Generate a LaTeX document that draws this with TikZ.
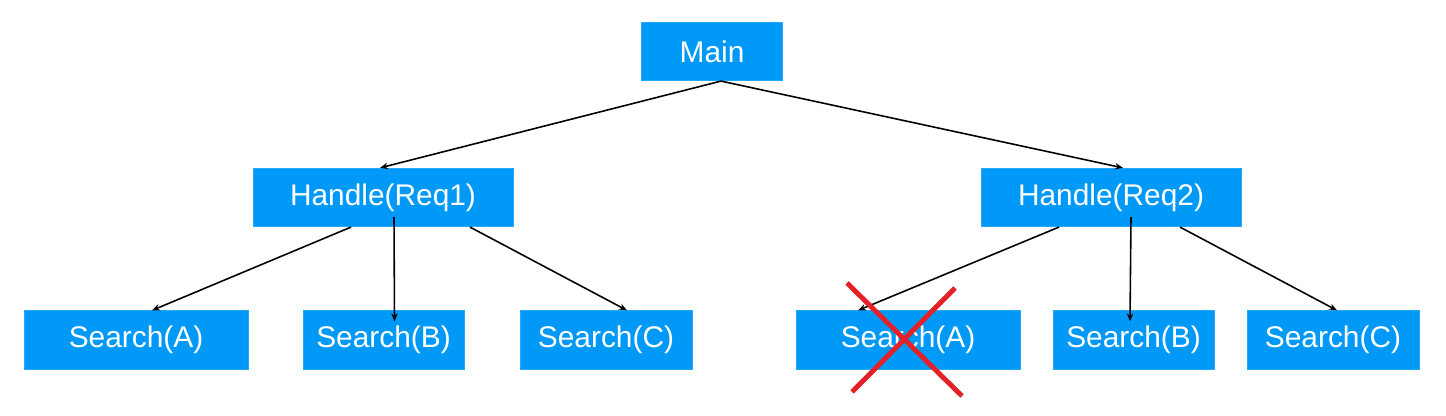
\documentclass[tikz,border=0pt]{standalone}
\usepackage{fontspec}
\setmainfont{Liberation Sans}
\usepackage{xcolor}
\usepackage{tikz}
\usetikzlibrary{positioning,arrows.meta}
\definecolor{boxblue}{RGB}{0,153,247}
\definecolor{crossred}{RGB}{228,32,40}

\begin{document}
\begin{tikzpicture}[
  call/.style={draw=boxblue!85!white,fill=boxblue,text=white,inner sep=0pt,
    minimum height=1.17cm,font=\fontsize{17}{20}\selectfont},
  link/.style={-{Stealth[length=4.5pt,width=3.6pt]},line width=0.9pt}]
\useasboundingbox (0,0) rectangle (28.92,8.32);
% call tree
\node[call,minimum width=2.81cm] (main) at (14.24,7.29) {Main};
\node[call,minimum width=5.2cm] (req1) at (7.66,4.37) {Handle(Req1)};
\node[call,minimum width=5.2cm] (req2) at (22.22,4.37) {Handle(Req2)};
\node[call,minimum width=4.48cm] (sa1) at (2.72,1.52) {Search(A)};
\node[call,minimum width=3.22cm] (sb1) at (7.67,1.52) {Search(B)};
\node[call,minimum width=3.44cm] (sc1) at (12.12,1.52) {Search(C)};
\node[call,minimum width=4.48cm] (sa2) at (18.16,1.52) {Search(A)};
\node[call,minimum width=3.22cm] (sb2) at (22.67,1.52) {Search(B)};
\node[call,minimum width=3.44cm] (sc2) at (26.66,1.52) {Search(C)};
% edges
\draw[link] ([xshift=0.18cm]main.south) -- ([xshift=-0.06cm]req1.north);
\draw[link] ([xshift=0.18cm]main.south) -- ([xshift=0.24cm]req2.north);
\draw[link] ([xshift=-0.64cm]req1.south) -- ([xshift=0.32cm]sa1.north);
\draw[link] ([xshift=0.22cm,yshift=0.2cm]req1.south) -- ([xshift=0.22cm,yshift=-0.22cm]sb1.north);
\draw[link] ([xshift=1.74cm]req1.south) -- ([xshift=0.42cm]sc1.north);
\draw[link] ([xshift=-1.04cm]req2.south) -- ([xshift=-1cm]sa2.north);
\draw[link] ([xshift=0.4cm,yshift=0.2cm]req2.south) -- ([xshift=-0.07cm,yshift=-0.22cm]sb2.north);
\draw[link] ([xshift=1.38cm]req2.south) -- ([xshift=0.08cm]sc2.north);
% cancelled search
\draw[crossred,line width=2.8pt] ([shift={(-1.22,1.14)}]sa2.center) -- ([shift={(1.08,-1.12)}]sa2.center);
\draw[crossred,line width=2.8pt] ([shift={(0.94,1.04)}]sa2.center) -- ([shift={(-1.12,-1.04)}]sa2.center);
\end{tikzpicture}
\end{document}
